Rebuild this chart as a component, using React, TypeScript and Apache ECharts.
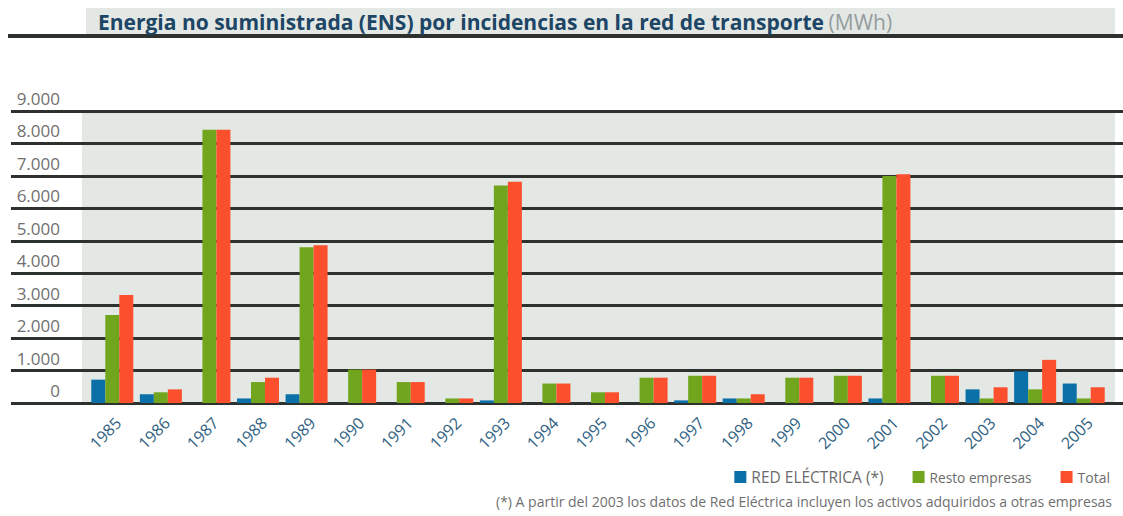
import React, { useEffect, useRef } from "react";
import * as echarts from "echarts";

const categories = ["1985","1986","1987","1988","1989","1990","1991","1992","1993","1994","1995","1996","1997","1998","1999","2000","2001","2002","2003","2004","2005"];
const redElectrica = [720, 270, 0, 140, 270, 0, 0, 0, 80, 0, 0, 0, 80, 140, 0, 0, 140, 0, 420, 980, 600];
const restoEmpresas = [2710, 330, 8420, 645, 4800, 1030, 645, 140, 6700, 600, 330, 780, 840, 140, 780, 840, 7000, 840, 140, 420, 140];
const total = [3330, 420, 8420, 780, 4860, 1030, 645, 140, 6820, 600, 330, 780, 840, 270, 780, 840, 7050, 840, 485, 1330, 485];
const seriesNames = ["RED ELÉCTRICA (*)", "Resto empresas", "Total"];
const seriesColors = ["#0b6fa8", "#72a51e", "#fc4f2d"];
const yMin = 0;
const yMax = 9000;
const yInterval = 1000;

const titleMain = "Energia no suministrada (ENS) por incidencias en la red de transporte";
const titleUnit = "(MWh)";
const footnote = "(*) A partir del 2003 los datos de Red Eléctrica incluyen los activos adquiridos a otras empresas";

const FONT = "'Open Sans', 'Noto Sans', sans-serif";
const fmt = (v: number) => String(v).replace(/\B(?=(\d{3})+(?!\d))/g, ".");

export default function App() {
  const ref = useRef<HTMLDivElement>(null);
  useEffect(() => {
    if (!ref.current) return;
    const chart = echarts.init(ref.current, undefined, { renderer: "svg" });
    const seriesData = [redElectrica, restoEmpresas, total];
    chart.setOption({
      animation: false,
      backgroundColor: "#ffffff",
      textStyle: { fontFamily: FONT },
      title: {
        left: 93,
        top: 6,
        text: `{a|${titleMain}} {b|${titleUnit}}`,
        textStyle: {
          rich: {
            a: { fontFamily: FONT, fontSize: 21, fontWeight: "bold", color: "#1d4565" },
            b: { fontFamily: FONT, fontSize: 21, fontWeight: "normal", color: "#969ba0" },
          },
        },
      },
      graphic: [
        { type: "rect", z: -10, shape: { x: 86, y: 8, width: 1029, height: 26 }, style: { fill: "#e3e8e4" }, silent: true },
        { type: "rect", z: -10, shape: { x: 8, y: 34, width: 1115, height: 4 }, style: { fill: "#2e322e" }, silent: true },
        { type: "rect", z: -10, shape: { x: 82, y: 111, width: 1033, height: 292 }, style: { fill: "#e3e8e4" }, silent: true },
        {
          type: "text",
          right: 11,
          top: 494,
          style: { text: footnote, fontFamily: FONT, fontSize: 14, fill: "#6f6f6f" },
        },
      ],
      legend: {
        right: 8,
        top: 464,
        itemWidth: 12,
        itemHeight: 12,
        itemGap: 29,
        icon: "rect",
        data: [
          { name: seriesNames[0], textStyle: { fontSize: 15.5 } },
          { name: seriesNames[1], textStyle: { fontSize: 13.7 } },
          { name: seriesNames[2] },
        ],
        textStyle: { fontFamily: FONT, fontSize: 14, color: "#6b6b6b" },
      },
      grid: [
        { left: 11, right: 0, top: 111, height: 292 },
        { left: 88, right: 15, top: 111, height: 292 },
        { left: 94, right: 9, top: 111, height: 292 },
      ],
      xAxis: [
        { gridIndex: 0, type: "category", data: categories, show: false },
        { gridIndex: 1, type: "category", data: categories, axisLine: { show: false }, axisTick: { show: false }, axisLabel: { show: false } },
        {
          gridIndex: 2,
          type: "category",
          data: categories,
          axisLine: { show: false },
          axisTick: { show: false },
          axisLabel: { rotate: 45, margin: 17, fontFamily: FONT, fontSize: 16, color: "#2f5f82", interval: 0 },
        },
      ],
      yAxis: [
        {
          gridIndex: 0,
          type: "value",
          min: yMin,
          max: yMax,
          interval: yInterval,
          axisLine: { show: false },
          axisTick: { show: false },
          splitLine: { show: true, lineStyle: { color: "#2e322e", width: 3 } },
          axisLabel: {
            inside: true,
            align: "right",
            margin: 49,
            verticalAlign: "bottom",
            padding: [0, 0, 4, 0],
            fontFamily: FONT,
            fontSize: 17,
            color: "#707070",
            formatter: (v: number) => fmt(v),
          },
        },
        { gridIndex: 1, type: "value", min: yMin, max: yMax, interval: yInterval, show: false, splitLine: { show: false } },
        { gridIndex: 2, type: "value", min: yMin, max: yMax, interval: yInterval, show: false, splitLine: { show: false } },
      ],
      series: seriesNames.map((name, i) => ({
        name,
        type: "bar",
        xAxisIndex: 1,
        yAxisIndex: 1,
        data: seriesData[i],
        barWidth: 14,
        barGap: "0%",
        itemStyle: { color: seriesColors[i] },
      })),
    });
    return () => chart.dispose();
  }, []);
  return <div ref={ref} style={{ position: "fixed", left: 0, top: 0, width: 1123, height: 516 }} />;
}
